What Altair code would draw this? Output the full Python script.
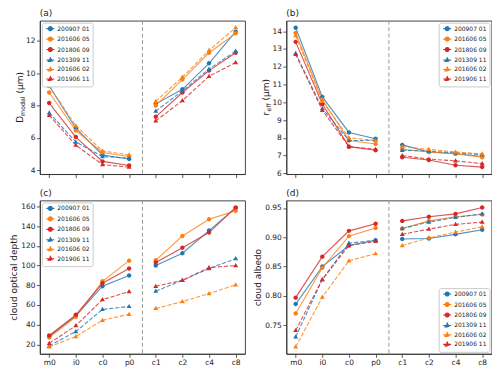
import altair as alt
import pandas as pd

FONT = "DejaVu Sans"
CATS = ["m0", "i0", "c0", "p0", "c1", "c2", "c4", "c8"]
SERIES = ["200907 01", "201606 05", "201806 09", "201309 11", "201606 02", "201906 11"]
COLORS = ["#1f77b4", "#ff7f0e", "#d62728", "#1f77b4", "#ff7f0e", "#d62728"]
DASHED = [False, False, False, True, True, True]

# (a) D_modal (um)
DMODAL = {
    "200907 01": [9.2, 6.6, 4.95, 4.7, 8.1, 9.0, 10.6, 12.55],
    "201606 05": [8.8, 6.45, 5.1, 4.85, 8.0, 9.6, 11.25, 12.45],
    "201806 09": [8.15, 6.05, 4.55, 4.3, 7.3, 8.8, 10.15, 11.25],
    "201309 11": [7.55, 5.75, 4.85, 4.75, 7.65, 8.9, 10.25, 11.35],
    "201606 02": [9.2, 6.75, 5.2, 4.95, 8.25, 9.75, 11.4, 12.8],
    "201906 11": [7.4, 5.55, 4.35, 4.2, 7.05, 8.3, 9.8, 10.65],
}
# (b) r_eff (um)
REFF = {
    "200907 01": [14.2, 10.3, 8.3, 7.95, 7.6, 7.2, 7.1, 6.95],
    "201606 05": [13.9, 10.15, 7.85, 7.65, 7.35, 7.2, 7.1, 6.9],
    "201806 09": [13.4, 9.9, 7.5, 7.3, 6.9, 6.75, 6.45, 6.35],
    "201309 11": [12.75, 9.65, 7.85, 7.85, 7.3, 7.25, 7.15, 7.05],
    "201606 02": [13.75, 10.05, 8.0, 7.85, 7.5, 7.35, 7.2, 7.1],
    "201906 11": [12.7, 9.55, 7.5, 7.35, 7.0, 6.8, 6.7, 6.55],
}
# (c) cloud optical depth
COD = {
    "200907 01": [28, 49, 79, 90, 100, 112.5, 135.5, 158.5],
    "201606 05": [27, 48, 84, 105, 105.5, 130, 147, 155.5],
    "201806 09": [29, 50, 82, 97, 103, 118, 133.5, 159],
    "201309 11": [18.5, 33, 55.5, 58.5, 74, 85, 97, 107],
    "201606 02": [17.5, 28, 44.5, 50.5, 56.5, 63.5, 71.5, 80.5],
    "201906 11": [21, 39, 65.5, 73.5, 79, 85, 98, 100],
}
# (d) cloud albedo
ALB = {
    "200907 01": [0.786, 0.850, 0.886, 0.895, 0.897, 0.898, 0.905, 0.913],
    "201606 05": [0.770, 0.848, 0.902, 0.916, 0.915, 0.928, 0.935, 0.939],
    "201806 09": [0.797, 0.867, 0.911, 0.923, 0.928, 0.935, 0.940, 0.951],
    "201309 11": [0.730, 0.828, 0.890, 0.895, 0.915, 0.926, 0.934, 0.940],
    "201606 02": [0.713, 0.798, 0.860, 0.872, 0.886, 0.899, 0.909, 0.918],
    "201906 11": [0.741, 0.828, 0.886, 0.893, 0.905, 0.914, 0.922, 0.926],
}

W, H = 206, 154
SOLID = [1, 0]
DASH = [4.2, 1.8]
DASHES = [DASH if d else SOLID for d in DASHED]
# marker shapes with a horizontal line through them: the line part is stroke-only,
# so it only shows in the legend (markers are drawn with stroke width 0)
LEG_CIRC = "M-2,0L2,0M1,0A1,1,0,1,1,-1,0A1,1,0,1,1,1,0Z"
LEG_TRI = "M-2,0L2,0M0,-1.15L1.1,0.75L-1.1,0.75Z"
SHAPES = [LEG_TRI if d else LEG_CIRC for d in DASHED]
LABEL_EXPR = "[" + ",".join("'%s'" % c for c in CATS) + "][datum.value]"


def make_df(vals):
    rows = []
    for s in SERIES:
        for i, v in enumerate(vals[s]):
            rows.append({"series": s, "xi": i, "value": v,
                         "grp": s + ("|a" if i < 4 else "|b")})
    return pd.DataFrame(rows)


def legend(orient):
    return alt.Legend(
        title=None, orient=orient, offset=2, labelFontSize=6, labelFont=FONT,
        labelColor="#222", symbolSize=16, symbolStrokeWidth=1.1, rowPadding=0.5,
        padding=3, symbolOffset=2.5, labelOffset=4, strokeColor="#cccccc",
        fillColor="#ffffff", cornerRadius=2)


def piece(text, x, y, size):
    return alt.Chart(pd.DataFrame({"t": [text]})).mark_text(
        angle=270, align="left", baseline="alphabetic", fontSize=size,
        font=FONT, color="#222").encode(x=alt.value(x), y=alt.value(y), text="t:N")


def panel(vals, letter, ytitle, yvalues, yfmt, orient, show_x, title_pieces=None):
    df = make_df(vals)
    allv = [v for s in SERIES for v in vals[s]]
    lo, hi = min(allv), max(allv)
    m = 0.05 * (hi - lo)
    xenc = alt.X("xi:Q", scale=alt.Scale(domain=[-0.35, 7.35], nice=False, zero=False),
                 axis=alt.Axis(values=list(range(8)), labelExpr=LABEL_EXPR, labels=show_x,
                               title=None, grid=False))
    yaxis = alt.Axis(values=yvalues, format=yfmt, grid=False,
                     title=ytitle if ytitle else None)
    yenc = alt.Y("value:Q", scale=alt.Scale(domain=[lo - m, hi + m], nice=False, zero=False),
                 axis=yaxis)
    leg = legend(orient)
    base = alt.Chart(df)
    rule = alt.Chart(pd.DataFrame({"xi": [3.5]})).mark_rule(
        color="#999999", strokeDash=[4, 2.5], strokeWidth=1).encode(x=xenc)
    layers = [rule]
    for s, c, d in zip(SERIES, COLORS, DASHED):
        kw = {"strokeDash": DASH} if d else {}
        layers.append(base.transform_filter(alt.datum.series == s).mark_line(
            strokeWidth=1.1, opacity=0.8, color=c, **kw).encode(x=xenc, y=yenc, detail="grp:N"))
    pts = base.mark_point(filled=True, size=20, opacity=1).encode(
        x=xenc, y=yenc,
        color=alt.Color("series:N", scale=alt.Scale(domain=SERIES, range=COLORS), legend=leg),
        stroke=alt.Stroke("series:N", scale=alt.Scale(domain=SERIES, range=COLORS), legend=leg),
        shape=alt.Shape("series:N", scale=alt.Scale(domain=SERIES, range=SHAPES), legend=leg),
        strokeDash=alt.StrokeDash("series:N", scale=alt.Scale(domain=SERIES, range=DASHES), legend=leg),
        strokeWidth=alt.value(0))
    layers.append(pts)
    if title_pieces:
        layers += [piece(*p) for p in title_pieces]
    return alt.layer(*layers).properties(
        width=W, height=H,
        title=alt.TitleParams(letter, anchor="start", frame="group", fontSize=9, offset=2,
                              fontWeight="normal", font=FONT, color="#222"))


A_TITLE = [("D", -17, 102.5, 9), ("modal", -15.2, 95.6, 6.3), ("(\u03bcm)", -17, 73.1, 9)]
B_TITLE = [("r", -17, 95.2, 9), ("eff", -15.2, 91.3, 6.3), ("(\u03bcm)", -17, 80.1, 9)]

pa = panel(DMODAL, "(a)", None, [4, 6, 8, 10, 12], "d", "top-left", False, A_TITLE)
pb = panel(REFF, "(b)", None, [6, 7, 8, 9, 10, 11, 12, 13, 14], "d", "top-right", False, B_TITLE)
pc = panel(COD, "(c)", "cloud optical depth", [20, 40, 60, 80, 100, 120, 140, 160], "d", "top-left", True)
pd_ = panel(ALB, "(d)", "cloud albedo", [0.75, 0.80, 0.85, 0.90, 0.95], ".2f", "bottom-right", True)

chart = alt.concat(pa, pb, pc, pd_, columns=2, spacing={"row": 9.5, "column": 6.5}).resolve_scale(
    x="independent", y="independent", color="independent", stroke="independent",
    shape="independent", strokeDash="independent"
).properties(padding=0).configure(font=FONT).configure_view(
    stroke="#333333", strokeWidth=0.9).configure_axis(
    labelFontSize=7.5, titleFontSize=9, labelColor="#222", titleColor="#222",
    domainColor="#333333", tickColor="#333333", tickSize=3.5, labelPadding=1.5,
    titlePadding=2.5, titleFontWeight="normal", labelFont=FONT, titleFont=FONT,
    domainWidth=0.9, tickWidth=0.8)

chart.save("out.html", embed_options={"renderer": "svg", "actions": False})
